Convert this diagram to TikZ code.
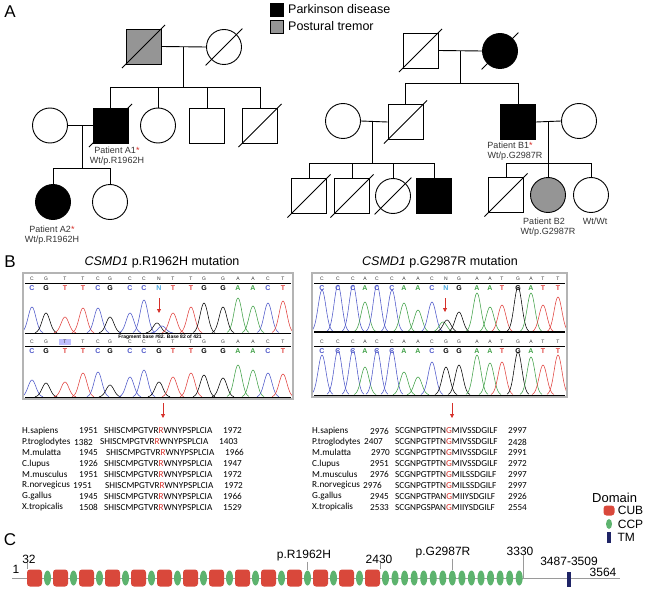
\documentclass[tikz,border=0pt]{standalone}
\usepackage{fontspec}
\setmainfont{Liberation Sans}
\newfontfamily\alnfont{Carlito}
\usetikzlibrary{arrows.meta,calc,shapes.geometric,positioning}

\definecolor{cubred}{HTML}{D9483B}
\definecolor{ccpgreen}{HTML}{5DB36E}
\definecolor{tmblue}{HTML}{1F2466}
\definecolor{trblue}{HTML}{4B55C8}
\definecolor{trred}{HTML}{E0403C}
\definecolor{trgreen}{HTML}{3FA046}
\definecolor{ncyan}{HTML}{4AA8E0}
\definecolor{boxgray}{HTML}{B4B4B4}
\definecolor{tremorgray}{HTML}{959595}
\definecolor{mutred}{HTML}{D6302A}
\definecolor{linegray}{HTML}{9A9A9A}
\definecolor{darktext}{HTML}{333333}

\tikzset{
  male/.style={draw, rectangle, minimum size=35pt, inner sep=0pt, line width=0.9pt},
  female/.style={draw, circle, minimum size=35pt, inner sep=0pt, line width=0.9pt},
  pd/.style={fill=black},
  pt/.style={fill=tremorgray},
  kin/.style={line width=0.9pt},
  pat/.style={font=\fontsize{9}{10}\selectfont, text=darktext, inner sep=0pt},
  panel/.style={font=\fontsize{17}{17}\selectfont, inner sep=0pt},
  mutarrow/.style={draw=mutred, line width=0.8pt, -{Triangle[length=4pt,width=4pt]}},
  chrombox/.style={draw=boxgray, line width=1.2pt},
  cub/.style={fill=cubred, rounded corners=3pt, minimum width=15pt, minimum height=17pt, inner sep=0pt},
  ccp/.style={fill=ccpgreen, ellipse, minimum width=7pt, minimum height=15pt, inner sep=0pt},
  tm/.style={fill=tmblue, minimum width=3.5pt, minimum height=15pt, inner sep=0pt},
  bartick/.style={draw=linegray, line width=0.6pt},
  barlabel/.style={font=\fontsize{12}{12}\selectfont, inner sep=0pt},
  aln/.style={font=\alnfont\fontsize{9.2}{10}\selectfont, inner sep=0pt, anchor=west},
}
% slash through a deceased individual
\newcommand\deadmark[2]{\draw[kin] ($(#1.center)!#2!(#1.south west)$) -- ($(#1.center)!#2!(#1.north east)$);}
% one peak of a trace: centre, height, colour, baseline
\newcommand\peak[4]{\draw[#3, line width=0.55pt] plot[smooth, domain=#1-11:#1+11, samples=23]
  (\x, {#4 - #2*exp(-((\x-#1)/5.5)*((\x-#1)/5.5))});}

\begin{document}
\begin{tikzpicture}[x=1pt,y=-1pt]
  \useasboundingbox (0,0) rectangle (652,588);

  % ---------------- A: pedigrees
  \node[panel] at (10,12) {A};
  \node[male, pd, minimum size=13pt, line width=0.5pt] (legpd) at (276.5,9.5) {};
  \node[male, pt, minimum size=13pt, line width=0.5pt] (legpt) at (276.5,26.5) {};
  \node[anchor=west, font=\fontsize{12.5}{13}\selectfont, inner sep=0pt] at (288,9.5) {Parkinson disease};
  \node[anchor=west, font=\fontsize{12.5}{13}\selectfont, inner sep=0pt] at (288,26.5) {Postural tremor};

  % family A
  \node[male, pt] (aI1) at (143.5,46.5) {};
  \node[female] (aI2) at (224,47) {};
  \deadmark{aI1}{1.2}
  \deadmark{aI2}{1.45}
  \draw[kin] (aI1.east) -- (aI2.west);
  \coordinate (aIm) at (183,47);
  \coordinate (aIs) at (183,87);
  \draw[kin] (aIm) -- (aIs);

  \node[female] (aII1) at (50,125.5) {};
  \node[male, pd] (aII2) at (110.5,125.5) {};
  \node[female] (aII3) at (158,125.5) {};
  \node[male] (aII4) at (207,125.5) {};
  \node[male] (aII5) at (260,125.5) {};
  \deadmark{aII2}{1.2}
  \deadmark{aII5}{1.2}
  \draw[kin] (aII2.north |- aIs) -- (aII5.north |- aIs);
  \foreach \k in {aII2,aII3,aII4,aII5}{
    \draw[kin] (\k.north |- aIs) -- (\k.north);
  }
  \draw[kin] (aII1.east) -- (aII2.west);
  \coordinate (aIIm) at (82,125.5);
  \coordinate (aIIs) at (82,168);
  \draw[kin] (aIIm) -- (aIIs);
  \node[pat] (labA1) at (117,150) {Patient A1{\color{mutred}*}};
  \node[pat, below=3pt of labA1] {Wt/p.R1962H};

  \node[female, pd] (aIII1) at (53,202) {};
  \node[female] (aIII2) at (110,202) {};
  \draw[kin] (aIII1.north |- aIIs) -- (aIII2.north |- aIIs);
  \foreach \k in {aIII1,aIII2}{
    \draw[kin] (\k.north |- aIIs) -- (\k.north);
  }
  \node[pat] (labA2) at (52,229) {Patient A2{\color{mutred}*}};
  \node[pat, below=3pt of labA2] {Wt/p.R1962H};

  % family B
  \node[male] (bI1) at (420.5,50.5) {};
  \node[female, pd] (bI2) at (500,51) {};
  \deadmark{bI1}{1.2}
  \deadmark{bI2}{1.45}
  \draw[kin] (bI1.east) -- (bI2.west);
  \coordinate (bIm) at (460,51);
  \coordinate (bIs) at (460,83);
  \draw[kin] (bIm) -- (bIs);

  \node[female] (bII1) at (343,121) {};
  \node[male] (bII2) at (405.5,122) {};
  \node[male, pd] (bII3) at (518,122) {};
  \node[female] (bII4) at (579,121) {};
  \deadmark{bII2}{1.2}
  \draw[kin] (bII2.north |- bIs) -- (bII3.north |- bIs);
  \foreach \k in {bII2,bII3}{
    \draw[kin] (\k.north |- bIs) -- (\k.north);
  }
  \draw[kin] (bII1.east) -- (bII2.west);
  \draw[kin] (bII3.east) -- (bII4.west);
  \coordinate (bIIm) at (372,122);
  \coordinate (bIIs) at (372,163);
  \draw[kin] (bIIm) -- (bIIs);
  \coordinate (bIIn) at (548,122);
  \coordinate (bIIt) at (548,163);
  \draw[kin] (bIIn) -- (bIIt);
  \node[pat] (labB1) at (510,145) {Patient B1{\color{mutred}*}};
  \node[pat, below=3pt of labB1, xshift=5pt] {Wt/p.G2987R};

  \node[male] (bIII1) at (309,196) {};
  \node[male] (bIII2) at (352,196) {};
  \node[female] (bIII3) at (393,196) {};
  \node[male, pd] (bIII4) at (434,196) {};
  \node[male] (bIII5) at (506,195) {};
  \node[female, pt] (bIII6) at (548,195) {};
  \node[female] (bIII7) at (591,195) {};
  \foreach \k in {bIII1,bIII2,bIII5}{
    \deadmark{\k}{1.2}
  }
  \deadmark{bIII3}{1.45}
  \draw[kin] (bIII1.north |- bIIs) -- (bIII4.north |- bIIs);
  \foreach \k in {bIII1,bIII2,bIII3,bIII4}{
    \draw[kin] (\k.north |- bIIs) -- (\k.north);
  }
  \draw[kin] (bIII5.north |- bIIt) -- (bIII7.north |- bIIt);
  \foreach \k in {bIII5,bIII6,bIII7}{
    \draw[kin] (\k.north |- bIIt) -- (\k.north);
  }
  \node[pat] (labB2) at (544,221) {Patient B2};
  \node[pat, below=3pt of labB2, xshift=4pt] {Wt/p.G2987R};
  \node[pat] at (595,221) {Wt/Wt};

  % ---------------- B: chromatograms
  \node[panel] at (10,262) {B};
  \node[font=\fontsize{12.5}{13}\selectfont, inner sep=0pt] at (162,262) {\textit{CSMD1} p.R1962H mutation};
  \node[font=\fontsize{12.5}{13}\selectfont, inner sep=0pt] at (440,262) {\textit{CSMD1} p.G2987R mutation};

  % left box
  \begin{scope}
    \clip (23,273) rectangle (293,399);
    \foreach \c/\h/\col in {32/26/trblue,46/20/black,65/16/trred,83/25/trred,98/25/trblue,110/16/black,
      130/20/trblue,144/33/trblue,157/10/black,162/7/trblue,173/20/trred,191/26/trred,204/30/black,
      223/26/black,238/35/trgreen,253/27/trgreen,268/30/trblue,283/32/trred}{
      \peak{\c}{\h}{\col}{333}
    }
    \foreach \c/\h/\col in {32/17/trblue,46/14/black,65/15/trred,83/24/trred,98/25/trblue,110/12/black,
      130/20/trblue,144/27/trblue,159/15/black,173/20/trred,191/24/trred,204/22/black,223/19/black,
      238/32/trgreen,253/27/trgreen,268/24/trblue,283/23/trred}{
      \peak{\c}{\h}{\col}{397}
    }
  \end{scope}
  \fill[blue!25] (59,339) rectangle (71,345);
  \foreach \c/\b/\col in {32/C/trblue,46/G/black,65/T/trred,83/T/trred,98/C/trblue,110/G/black,
    130/C/trblue,144/C/trblue,159/N/ncyan,173/T/trred,191/T/trred,204/G/black,223/G/black,
    238/A/trgreen,253/A/trgreen,268/C/trblue,283/T/trred}{
    \node[font=\fontsize{5}{5}\selectfont, text=darktext, inner sep=0pt] at (\c,278.5) {\b};
    \node[font=\bfseries\fontsize{7}{7}\selectfont, text=\col, inner sep=0pt] at (\c,288) {\b};
  }
  \foreach \c/\b/\col in {32/C/trblue,46/G/black,65/T/trred,83/T/trred,98/C/trblue,110/G/black,
    130/C/trblue,144/C/trblue,159/G/black,173/T/trred,191/T/trred,204/G/black,223/G/black,
    238/A/trgreen,253/A/trgreen,268/C/trblue,283/T/trred}{
    \node[font=\fontsize{5}{5}\selectfont, text=darktext, inner sep=0pt] at (\c,341.5) {\b};
    \node[font=\bfseries\fontsize{7}{7}\selectfont, text=\col, inner sep=0pt] at (\c,351) {\b};
  }
  \draw[line width=0.5pt] (25,283) -- (291,283);
  \draw[line width=0.5pt] (25,346) -- (291,346);
  \draw[line width=1.2pt] (25,333.5) -- (291,333.5);
  \draw[line width=1pt] (25,397) -- (291,397);
  \node[font=\bfseries\fontsize{5}{5}\selectfont, inner sep=0pt] at (160,337) {Fragment base \#82. Base 82 of 421};
  \draw[chrombox] (23,273) rectangle (293,399);
  \coordinate (mutL0) at (159,298);
  \coordinate (mutL1) at (159,313);
  \draw[mutarrow] (mutL0) -- (mutL1);

  % right box
  \begin{scope}
    \clip (312,273) rectangle (567,397);
    \foreach \c/\h/\col in {322/42/trblue,338/47/trblue,353/47/trblue,365/30/trgreen,377/47/trblue,
      392/42/trblue,404/29/trgreen,418/22/trgreen,432/30/trblue,443/10/trgreen,447/12/black,
      459/20/black,477/39/trgreen,490/25/trgreen,502/27/trred,518/45/black,531/39/trgreen,
      543/27/trred,558/35/trred}{
      \peak{\c}{\h}{\col}{332}
    }
    \foreach \c/\h/\col in {322/40/trblue,338/45/trblue,353/45/trblue,365/28/trgreen,377/45/trblue,
      392/45/trblue,404/23/trgreen,418/18/trgreen,432/33/trblue,446/28/black,459/30/black,
      477/40/trgreen,490/32/trgreen,502/33/trred,518/43/black,531/38/trgreen,543/30/trred,558/40/trred}{
      \peak{\c}{\h}{\col}{395}
    }
  \end{scope}
  \foreach \c/\b/\col in {322/C/trblue,338/C/trblue,353/C/trblue,365/A/trgreen,377/C/trblue,
    392/C/trblue,404/A/trgreen,418/A/trgreen,432/C/trblue,446/N/ncyan,459/G/black,477/A/trgreen,
    490/A/trgreen,502/T/trred,518/G/black,531/A/trgreen,543/T/trred,558/T/trred}{
    \node[font=\fontsize{5}{5}\selectfont, text=darktext, inner sep=0pt] at (\c,278.5) {\b};
    \node[font=\bfseries\fontsize{7}{7}\selectfont, text=\col, inner sep=0pt] at (\c,288) {\b};
  }
  \foreach \c/\b/\col in {322/C/trblue,338/C/trblue,353/C/trblue,365/A/trgreen,377/C/trblue,
    392/C/trblue,404/A/trgreen,418/A/trgreen,432/C/trblue,446/G/black,459/G/black,477/A/trgreen,
    490/A/trgreen,502/T/trred,518/G/black,531/A/trgreen,543/T/trred,558/T/trred}{
    \node[font=\fontsize{5}{5}\selectfont, text=darktext, inner sep=0pt] at (\c,341.5) {\b};
    \node[font=\bfseries\fontsize{7}{7}\selectfont, text=\col, inner sep=0pt] at (\c,351) {\b};
  }
  \draw[line width=0.5pt] (314,283) -- (565,283);
  \draw[line width=0.5pt] (314,346) -- (565,346);
  \draw[line width=1.2pt] (314,332) -- (565,332);
  \draw[line width=1pt] (314,395) -- (565,395);
  \draw[chrombox] (312,273) rectangle (567,397);
  \coordinate (mutR0) at (445,298);
  \coordinate (mutR1) at (445,312);
  \draw[mutarrow] (mutR0) -- (mutR1);

  % arrows to the alignments
  \coordinate (alnL0) at (163,403);
  \coordinate (alnL1) at (163,418);
  \coordinate (alnR0) at (452,403);
  \coordinate (alnR1) at (452,418);
  \draw[mutarrow] (alnL0) -- (alnL1);
  \draw[mutarrow] (alnR0) -- (alnR1);

  % alignments
  \foreach \nm/\st/\en/\nx/\sx [count=\i] in {H.sapiens/1951/1972/79/0,P.troglodytes/1382/1403/74/-4,
    M.mulatta/1945/1966/79/2,C.lupus/1926/1947/79/0,M.musculus/1951/1972/79/0,
    R.norvegicus/1951/1972/73/1,G.gallus/1945/1966/79/0,X.tropicalis/1508/1529/79/0}{
    \node[aln] at (22,{431+(\i-1)*10.9}) {\nm};
    \node[aln] at (\nx,{431+(\i-1)*10.9}) {\st};
    \node[aln] at ({104+\sx},{431+(\i-1)*10.9}) {SHISCMPGTVR{\color{mutred}R}WNYPSPLCIA};
    \node[aln] at ({223+\sx},{431+(\i-1)*10.9}) {\en};
  }
  \foreach \nm/\st/\pre/\suf/\en/\nx [count=\i] in {H.sapiens/2976/SCGNPGTPTN/MIVSSDGILF/2997/370,
    P.troglodytes/2407/SCGNPGTPTN/MIVSSDGILF/2428/364,M.mulatta/2970/SCGNPGTPTN/MIVSSDGILF/2991/371,
    C.lupus/2951/SCGNPGTPTN/MIVSSDGILF/2972/370,M.musculus/2976/SCGNPGTPTN/MILSSDGILF/2997/370,
    R.norvegicus/2976/SCGNPGTPTN/MILSSDGILF/2997/363,G.gallus/2945/SCGNPGTPAN/MIIYSDGILF/2926/370,
    X.tropicalis/2533/SCGNPGSPAN/MIIYSDGILF/2554/370}{
    \node[aln] at (312,{431+(\i-1)*10.9}) {\nm};
    \node[aln] at (\nx,{431+(\i-1)*10.9}) {\st};
    \node[aln] at (395,{431+(\i-1)*10.9}) {\pre{\color{mutred}G}\suf};
    \node[aln] at (508,{431+(\i-1)*10.9}) {\en};
  }

  % ---------------- C: protein domains
  \node[panel] at (10,540) {C};
  \node[anchor=west, font=\fontsize{13}{13}\selectfont, inner sep=0pt] at (592,498) {Domain};
  \node[cub, minimum width=11pt, minimum height=10pt] (legcub) at (609,510.5) {};
  \node[ccp, minimum width=6pt, minimum height=10pt] (legccp) at (609,524) {};
  \node[tm, minimum height=11pt] (legtm) at (609,537.5) {};
  \node[barlabel, anchor=west, right=3pt of legcub] {CUB};
  \node[barlabel, anchor=west, right=5.5pt of legccp] {CCP};
  \node[barlabel, anchor=west, right=6.5pt of legtm] {TM};

  \coordinate (aa1) at (12,578);
  \coordinate (aa3564) at (620,578);
  \draw[linegray, line width=0.7pt] (aa1) -- (aa3564);
  \foreach \i in {0,...,13}{
    \node[cub] (cub\i) at ({34.5+26*\i},578) {};
  }
  \foreach \i in {0,...,12}{
    \node[ccp] (ccp\i) at ({47.5+26*\i},578) {};
  }
  \foreach \i in {0,...,14}{
    \node[ccp] (tcp\i) at ({385.5+9.55*\i},578) {};
  }
  \node[tm] (tmseg) at (569,579.5) {};

  \node[barlabel] at (16,569) {1};
  \node[barlabel] (l32) at (29,559) {32};
  \node[barlabel] (lR) at (304,556) {p.R1962H};
  \node[barlabel] (l2430) at (379,559) {2430};
  \node[barlabel] (lG) at (443,553) {p.G2987R};
  \node[barlabel] (l3330) at (520,551) {3330};
  \node[barlabel] at (569,561) {3487-3509};
  \node[barlabel] at (603,572) {3564};
  \draw[bartick] (l32.south -| cub0.west) -- (cub0.west |- cub0.north);
  \draw[bartick] (lR.south -| ccp10.north) -- (ccp10.north);
  \draw[bartick] (l2430.south -| cub13.east) -- (cub13.east |- cub13.north);
  \draw[bartick] (lG.south -| tcp7.north) -- (tcp7.north);
  \draw[bartick] (l3330.south -| tcp14.east) -- (tcp14.east);
\end{tikzpicture}
\end{document}
